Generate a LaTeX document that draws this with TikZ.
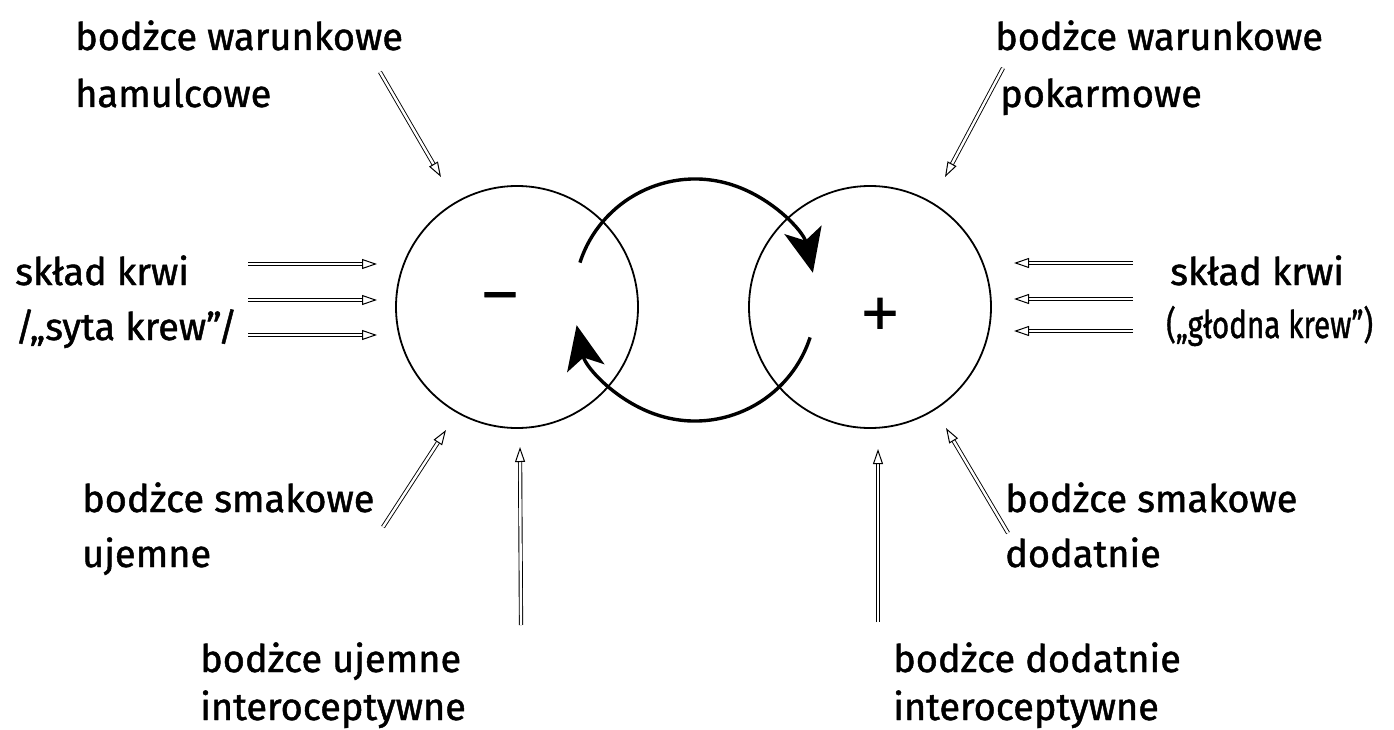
\documentclass[tikz,border=0pt]{standalone}
\usepackage{fontspec}
\setmainfont{Fira Sans}[FakeBold=1.2]
\newfontfamily\signfont{Liberation Sans}[FakeBold=1.5]
\usetikzlibrary{arrows.meta}
\begin{document}
\begin{tikzpicture}[x=1pt,y=-1pt,
  lbl/.style={anchor=base west, inner sep=0pt, font=\fontsize{38}{44}\selectfont},
  sign/.style={inner sep=0pt, font=\signfont\fontsize{62}{62}\selectfont},
  centre/.style={circle, draw, line width=1.8pt, minimum size=242pt, inner sep=0pt},
  stim/.style={double, double distance=2.4pt, line width=0.9pt,
               -{Triangle[open, length=15pt, width=10pt, line width=1pt]}},
  cycle/.style={line width=3.4pt, -{Stealth[length=44pt, width=38pt, inset=11pt]}}]
\useasboundingbox (0,0) rectangle (1394,730);

% the two centres
\node[centre] (neg) at (517,307) {};
\node[centre] (pos) at (870,307) {};
\node[sign] (minus) at (500,304) {−};
\node[sign] (plus) at (880,316) {+};

% the circulation between the centres
\coordinate (mid) at (695,300);
\draw[cycle] (mid) ++(-162:121) arc[start angle=-162, end angle=-13, radius=121];
\draw[cycle] (mid) ++(18:121) arc[start angle=18, end angle=168, radius=121];

% labels, left side
\node[lbl] (tl1) at (75,50) {bodżce warunkowe};
\node[lbl] (tl2) at (75,107) {hamulcowe};
\node[lbl] (ml1) at (15,285) {skład krwi};
\node[lbl] (ml2) at (15,340) {/„syta krew”/};
\node[lbl] (bl1) at (82,512) {bodżce smakowe};
\node[lbl] (bl2) at (82,567) {ujemne};
\node[lbl] (bc1) at (200,672) {bodżce ujemne};
\node[lbl] (bc2) at (200,720) {interoceptywne};

% labels, right side
\node[lbl] (tr1) at (995,50) {bodżce warunkowe};
\node[lbl] (tr2) at (1000,107) {pokarmowe};
\node[lbl] (mr1) at (1170,285) {skład krwi};
\node[lbl] (mr2) at (1166,338) {\scalebox{0.78}[1]{(„głodna krew”)}};
\node[lbl] (br1) at (1005,512) {bodżce smakowe};
\node[lbl] (br2) at (1005,567) {dodatnie};
\node[lbl] (bd1) at (893,672) {bodżce dodatnie};
\node[lbl] (bd2) at (893,720) {interoceptywne};

% stimulus arrows, inhibiting side
\coordinate (s1a) at (380,72);   \coordinate (s1b) at (441,177);
\coordinate (s2a) at (248,264);  \coordinate (s2b) at (377,264);
\coordinate (s3a) at (248,300);  \coordinate (s3b) at (377,300);
\coordinate (s4a) at (248,335);  \coordinate (s4b) at (377,335);
\coordinate (s5a) at (383,527);  \coordinate (s5b) at (446,430);
\coordinate (s6a) at (521,625);  \coordinate (s6b) at (520,447);
\draw[stim] (s1a) -- (s1b);
\draw[stim] (s2a) -- (s2b);
\draw[stim] (s3a) -- (s3b);
\draw[stim] (s4a) -- (s4b);
\draw[stim] (s5a) -- (s5b);
\draw[stim] (s6a) -- (s6b);

% stimulus arrows, exciting side
\coordinate (t1a) at (1003,68);  \coordinate (t1b) at (945,177);
\coordinate (t2a) at (1133,263); \coordinate (t2b) at (1014,263);
\coordinate (t3a) at (1133,299); \coordinate (t3b) at (1014,299);
\coordinate (t4a) at (1133,331); \coordinate (t4b) at (1014,331);
\coordinate (t5a) at (1008,533); \coordinate (t5b) at (946,428);
\coordinate (t6a) at (878,622);  \coordinate (t6b) at (878,449);
\draw[stim] (t1a) -- (t1b);
\draw[stim] (t2a) -- (t2b);
\draw[stim] (t3a) -- (t3b);
\draw[stim] (t4a) -- (t4b);
\draw[stim] (t5a) -- (t5b);
\draw[stim] (t6a) -- (t6b);
\end{tikzpicture}
\end{document}
